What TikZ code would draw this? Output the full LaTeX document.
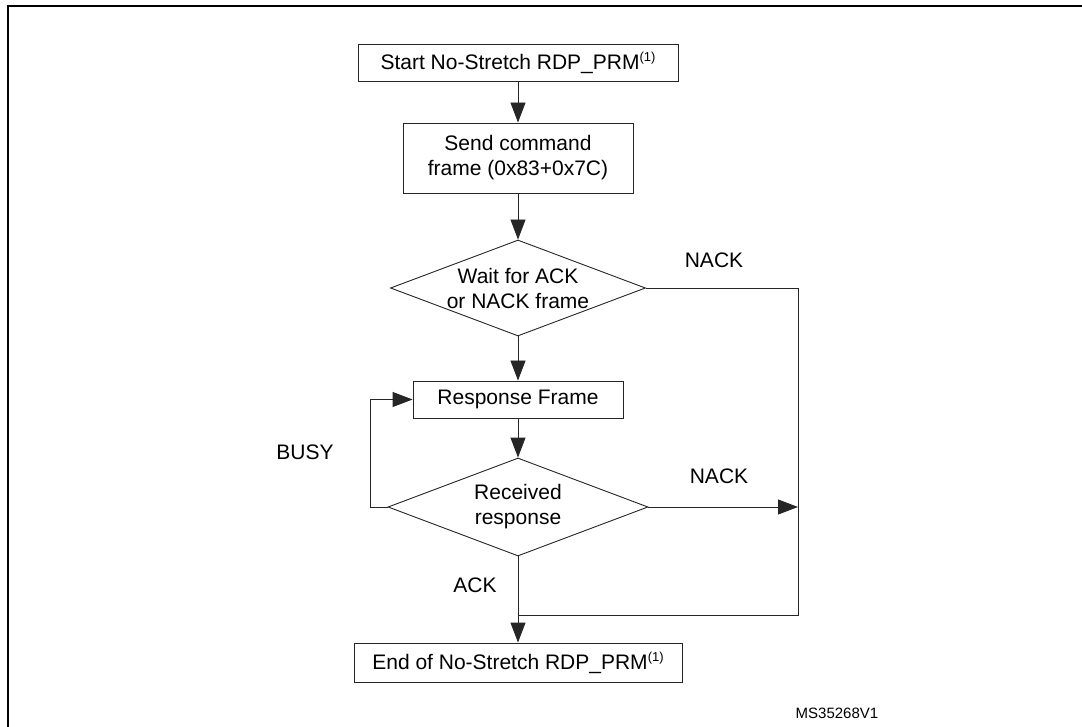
\documentclass[tikz,border=0pt]{standalone}
\usepackage{fontspec}
\setmainfont{Liberation Sans}
\usetikzlibrary{shapes.geometric,arrows.meta}
\newcommand\supone{\raisebox{8pt}{\fontsize{13}{13}\selectfont(1)}}
\begin{document}
\begin{tikzpicture}[x=1pt,y=-1pt,
  every node/.style={font=\fontsize{21}{25}\selectfont},
  box/.style={draw=black!85, line width=0.9pt, rectangle, inner sep=0pt, align=center},
  dec/.style={draw=black!85, line width=0.9pt, diamond, inner sep=0pt},
  txt/.style={align=center, inner sep=0pt},
  conn/.style={draw=black!85, line width=0.9pt},
  arr/.style={conn, -{Triangle[length=20pt,width=15pt]}},
]
\useasboundingbox (0,0) rectangle (1082,727);
% frame
\draw[line width=2pt] (8,740) -- (8,6) -- (1090,6);

% boxes
\node[box, minimum width=320pt, minimum height=37pt] (start) at (518,62.5) {Start No-Stretch RDP\_PRM\supone};
\node[box, minimum width=230pt, minimum height=70pt] (send) at (518,158) {Send command\\frame (0x83+0x7C)};
\node[dec, minimum width=255pt, minimum height=96pt] (d1) at (518,288) {};
\node[txt] (d1t) at (d1.center) {Wait for ACK\\or NACK frame};
\node[box, minimum width=210pt, minimum height=37pt] (resp) at (518,399.5) {Response Frame};
\node[dec, minimum width=260pt, minimum height=98pt] (d2) at (518,507) {};
\node[txt] (d2t) at (d2.center) {Received\\response};
\node[box, minimum width=328pt, minimum height=39pt] (end) at (518,662.5) {End of No-Stretch RDP\_PRM\supone};

% helper coordinates
\coordinate (nr) at (798,615);
\coordinate (bl) at (370,399.5);

% connectors
\draw[arr] (start) -- (send);
\draw[arr] (send) -- (d1);
\draw[arr] (d1) -- (resp);
\draw[arr] (resp) -- (d2);
\draw[arr] (d2.south) -- (end.north);
\draw[conn] (d1.east) -| (nr) -- (nr -| d2.south);
\draw[arr] (d2.east) -- (d2.east -| nr);
\draw[arr] (d2.west) -- (d2.west -| bl) |- (resp.west);

% labels
\node[txt] (nack1) at (714,260) {NACK};
\node[txt] (nack2) at (719,476) {NACK};
\node[txt] (busy) at (305,452) {BUSY};
\node[txt] (ack) at (475,585) {ACK};
\node[txt, font=\fontsize{15}{18}\selectfont] (id) at (837,713) {MS35268V1};
\end{tikzpicture}
\end{document}
